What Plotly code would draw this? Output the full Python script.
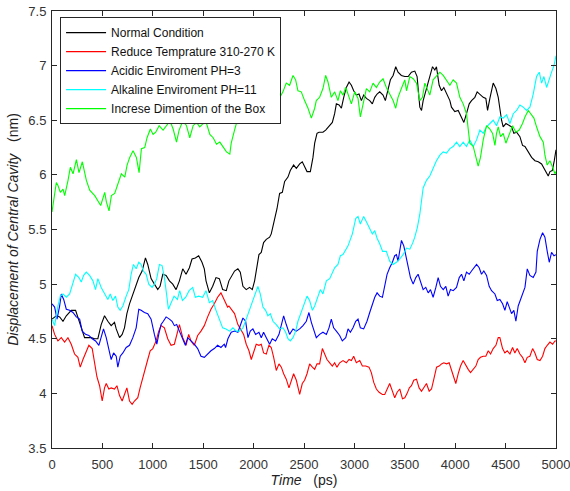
import plotly.graph_objects as go

# (time ps, displacement nm)
normal = [(0,4.68),(43,4.71),(76,4.70),(109,4.66),(142,4.71),(191,4.76),(234,4.76),(257,4.70),(290,4.60),(323,4.51),(356,4.51),(389,4.51),(422,4.50),(455,4.50),(488,4.63),(521,4.71),(554,4.66),(587,4.62),(620,4.65),(637,4.59),(670,4.51),(696,4.54),(719,4.60),(743,4.73),(769,4.82),(802,4.91),(835,5.00),(861,5.06),(894,5.12),(927,5.24),(950,5.18),(983,5.05),(1016,5.00),(1049,4.95),(1072,4.98),(1099,5.09),(1132,5.08),(1165,5.03),(1198,5.00),(1231,4.95),(1264,5.03),(1297,5.14),(1330,5.09),(1363,5.15),(1389,5.23),(1422,5.24),(1455,5.26),(1488,5.20),(1511,5.14),(1528,5.03),(1561,4.92),(1594,4.98),(1627,5.06),(1660,5.05),(1693,4.95),(1729,4.94),(1755,5.03),(1788,5.09),(1811,5.12),(1844,5.14),(1868,5.11),(1894,4.98),(1927,4.95),(1960,4.97),(1987,4.95),(2010,5.03),(2033,5.15),(2053,5.27),(2076,5.29),(2099,5.38),(2126,5.41),(2159,5.43),(2175,5.46),(2209,5.59),(2232,5.69),(2258,5.83),(2285,5.84),(2308,5.94),(2341,5.98),(2364,6.04),(2397,6.09),(2424,6.06),(2457,6.10),(2483,6.12),(2506,6.07),(2530,6.03),(2563,6.03),(2589,6.16),(2606,6.29),(2629,6.38),(2649,6.39),(2688,6.39),(2715,6.41),(2748,6.45),(2781,6.48),(2804,6.56),(2821,6.65),(2848,6.64),(2871,6.61),(2894,6.71),(2920,6.80),(2947,6.85),(2970,6.82),(2993,6.77),(3019,6.73),(3046,6.74),(3069,6.68),(3092,6.73),(3119,6.70),(3152,6.68),(3178,6.65),(3202,6.71),(3225,6.74),(3251,6.76),(3284,6.73),(3307,6.68),(3334,6.77),(3357,6.87),(3384,6.91),(3410,6.99),(3433,6.94),(3466,6.91),(3500,6.90),(3533,6.90),(3566,6.94),(3599,6.95),(3622,6.90),(3649,6.62),(3666,6.59),(3682,6.68),(3715,6.79),(3748,6.91),(3775,6.99),(3798,6.96),(3814,6.99),(3841,6.82),(3864,6.77),(3887,6.80),(3914,6.74),(3947,6.68),(3963,6.62),(3996,6.58),(4030,6.59),(4063,6.53),(4086,6.48),(4112,6.56),(4139,6.65),(4162,6.68),(4195,6.71),(4218,6.76),(4245,6.74),(4278,6.71),(4304,6.70),(4321,6.59),(4344,6.70),(4361,6.76),(4377,6.84),(4404,6.79),(4427,6.71),(4460,6.50),(4476,6.44),(4503,6.47),(4536,6.45),(4559,6.44),(4582,6.38),(4609,6.39),(4642,6.35),(4668,6.27),(4692,6.26),(4725,6.21),(4758,6.16),(4791,6.13),(4824,6.12),(4857,6.10),(4890,6.05),(4923,5.99),(4940,6.03),(4963,6.04),(4983,6.13),(5000,6.23)]

reduce_temp = [(0,4.62),(26,4.54),(59,4.48),(92,4.51),(125,4.47),(158,4.51),(191,4.45),(224,4.36),(257,4.33),(280,4.24),(307,4.31),(333,4.37),(366,4.44),(399,4.41),(422,4.30),(446,4.15),(472,4.07),(498,3.93),(521,4.05),(538,4.09),(564,4.04),(587,4.05),(620,4.04),(644,4.07),(670,3.98),(696,3.93),(719,3.99),(743,4.05),(769,3.93),(795,3.90),(818,3.93),(851,3.96),(874,4.05),(901,4.15),(927,4.24),(950,4.31),(974,4.39),(1000,4.41),(1033,4.48),(1059,4.57),(1082,4.62),(1115,4.60),(1148,4.50),(1181,4.44),(1214,4.45),(1237,4.54),(1264,4.63),(1297,4.51),(1330,4.44),(1356,4.54),(1379,4.48),(1412,4.44),(1445,4.53),(1478,4.57),(1511,4.62),(1544,4.70),(1577,4.77),(1610,4.82),(1643,4.88),(1676,4.92),(1693,4.89),(1719,4.83),(1742,4.79),(1755,4.80),(1778,4.77),(1811,4.73),(1844,4.63),(1877,4.57),(1901,4.54),(1927,4.45),(1954,4.39),(1977,4.31),(2000,4.37),(2026,4.45),(2053,4.44),(2076,4.45),(2099,4.37),(2126,4.36),(2152,4.44),(2175,4.42),(2199,4.33),(2225,4.21),(2252,4.27),(2275,4.24),(2298,4.18),(2324,4.13),(2351,4.05),(2374,4.12),(2397,4.18),(2424,4.12),(2457,3.99),(2483,4.09),(2506,4.12),(2530,4.18),(2556,4.27),(2583,4.24),(2606,4.22),(2629,4.27),(2655,4.27),(2682,4.41),(2705,4.36),(2728,4.31),(2755,4.28),(2781,4.25),(2804,4.28),(2827,4.24),(2854,4.28),(2887,4.30),(2920,4.28),(2947,4.31),(2970,4.30),(2993,4.34),(3019,4.28),(3053,4.30),(3079,4.25),(3112,4.25),(3145,4.24),(3168,4.19),(3192,4.10),(3218,4.04),(3245,4.01),(3278,3.99),(3301,3.99),(3324,4.04),(3350,4.09),(3377,4.02),(3400,3.96),(3424,4.01),(3450,4.04),(3477,3.95),(3500,3.96),(3523,4.00),(3545,4.05),(3566,4.07),(3589,4.12),(3616,4.13),(3642,4.05),(3666,4.02),(3689,4.05),(3715,4.09),(3742,4.02),(3765,4.04),(3788,4.13),(3815,4.24),(3841,4.25),(3864,4.27),(3887,4.28),(3914,4.27),(3940,4.28),(3963,4.21),(3986,4.15),(4006,4.09),(4030,4.18),(4053,4.25),(4079,4.30),(4106,4.25),(4129,4.22),(4152,4.19),(4179,4.22),(4205,4.25),(4228,4.31),(4251,4.33),(4278,4.34),(4304,4.34),(4328,4.39),(4351,4.36),(4377,4.41),(4404,4.44),(4427,4.51),(4443,4.51),(4470,4.41),(4493,4.37),(4516,4.39),(4543,4.36),(4569,4.42),(4592,4.37),(4615,4.41),(4642,4.36),(4668,4.33),(4692,4.28),(4715,4.33),(4741,4.34),(4768,4.41),(4791,4.37),(4814,4.31),(4841,4.30),(4867,4.34),(4890,4.41),(4913,4.44),(4940,4.47),(4966,4.45),(4990,4.48),(5000,4.48)]

acidic = [(0,4.82),(26,4.79),(50,4.68),(76,4.80),(92,4.91),(116,4.86),(142,4.77),(175,4.76),(208,4.74),(241,4.70),(274,4.68),(300,4.57),(333,4.54),(366,4.53),(399,4.50),(432,4.48),(465,4.44),(488,4.51),(511,4.59),(538,4.51),(564,4.39),(587,4.31),(611,4.37),(637,4.34),(653,4.24),(677,4.34),(703,4.37),(736,4.42),(769,4.44),(802,4.51),(835,4.60),(861,4.77),(884,4.76),(917,4.74),(950,4.73),(983,4.68),(1016,4.54),(1040,4.45),(1059,4.54),(1082,4.63),(1105,4.66),(1132,4.70),(1165,4.68),(1191,4.66),(1214,4.62),(1237,4.63),(1264,4.57),(1297,4.50),(1323,4.44),(1346,4.51),(1379,4.48),(1412,4.45),(1445,4.41),(1478,4.34),(1511,4.33),(1544,4.36),(1577,4.39),(1610,4.41),(1643,4.44),(1676,4.42),(1709,4.45),(1722,4.42),(1745,4.50),(1778,4.56),(1811,4.57),(1844,4.56),(1868,4.63),(1894,4.69),(1921,4.66),(1944,4.51),(1967,4.57),(1993,4.59),(2020,4.54),(2053,4.56),(2076,4.51),(2099,4.56),(2126,4.51),(2159,4.45),(2185,4.50),(2218,4.48),(2252,4.54),(2275,4.62),(2298,4.71),(2324,4.63),(2357,4.54),(2391,4.59),(2424,4.57),(2457,4.59),(2490,4.62),(2523,4.66),(2549,4.74),(2573,4.65),(2596,4.59),(2622,4.51),(2655,4.54),(2688,4.56),(2722,4.54),(2748,4.60),(2771,4.68),(2794,4.60),(2821,4.57),(2854,4.53),(2880,4.48),(2914,4.51),(2937,4.59),(2960,4.56),(2986,4.60),(3013,4.66),(3036,4.68),(3059,4.60),(3092,4.59),(3125,4.66),(3152,4.74),(3178,4.82),(3202,4.88),(3225,4.92),(3251,4.89),(3278,4.88),(3301,4.98),(3324,5.09),(3350,5.15),(3377,5.20),(3400,5.26),(3417,5.27),(3433,5.21),(3450,5.30),(3467,5.40),(3490,5.35),(3510,5.27),(3533,5.15),(3556,5.06),(3583,5.00),(3609,5.06),(3632,5.09),(3655,5.03),(3682,4.95),(3708,4.97),(3732,4.92),(3755,4.95),(3781,4.88),(3808,4.97),(3831,5.06),(3854,4.98),(3881,4.95),(3907,4.98),(3930,4.89),(3953,4.95),(3980,4.94),(4013,4.97),(4040,5.06),(4063,5.09),(4086,5.03),(4112,5.11),(4139,5.09),(4162,5.12),(4185,5.15),(4212,5.18),(4238,5.15),(4261,5.09),(4284,5.12),(4311,5.08),(4337,4.98),(4361,4.94),(4394,4.91),(4417,4.85),(4443,4.86),(4470,4.82),(4493,4.76),(4516,4.84),(4536,4.79),(4559,4.73),(4582,4.76),(4602,4.66),(4625,4.80),(4658,4.89),(4692,4.97),(4715,5.14),(4741,5.08),(4774,5.06),(4801,5.11),(4814,5.30),(4841,5.41),(4867,5.47),(4890,5.43),(4913,5.30),(4933,5.20),(4956,5.29),(4980,5.26),(5000,5.27)]

alkaline = [(0,4.68),(26,4.62),(59,4.80),(83,4.89),(109,4.91),(142,4.88),(175,4.91),(208,5.02),(234,5.09),(267,5.06),(290,5.02),(314,5.08),(340,5.11),(373,5.08),(406,5.03),(432,4.95),(455,5.05),(488,4.97),(521,4.91),(554,4.86),(578,4.91),(604,4.85),(630,4.89),(653,4.79),(676,4.76),(703,4.80),(736,4.89),(762,4.95),(785,5.09),(808,5.18),(835,5.14),(861,5.20),(884,5.18),(907,5.12),(934,5.09),(960,5.00),(993,4.97),(1016,5.00),(1039,5.05),(1066,5.18),(1092,5.17),(1115,5.06),(1135,4.92),(1155,4.77),(1178,4.82),(1211,4.89),(1244,4.86),(1267,4.94),(1294,4.85),(1327,4.88),(1360,4.94),(1396,4.97),(1422,4.88),(1455,4.89),(1495,4.88),(1528,4.94),(1561,4.83),(1594,4.85),(1627,4.76),(1660,4.68),(1693,4.60),(1726,4.59),(1762,4.57),(1795,4.60),(1828,4.57),(1861,4.57),(1894,4.60),(1927,4.68),(1960,4.77),(1993,4.85),(2020,4.92),(2043,4.98),(2066,4.91),(2093,4.79),(2119,4.76),(2142,4.71),(2166,4.73),(2192,4.66),(2225,4.63),(2258,4.59),(2291,4.60),(2318,4.56),(2341,4.50),(2364,4.48),(2391,4.51),(2417,4.57),(2440,4.66),(2473,4.74),(2506,4.82),(2530,4.89),(2556,4.85),(2583,4.76),(2606,4.80),(2639,4.89),(2662,4.95),(2688,4.91),(2722,5.03),(2755,5.05),(2781,5.11),(2804,5.15),(2837,5.18),(2861,5.26),(2887,5.27),(2914,5.32),(2937,5.35),(2960,5.41),(2980,5.46),(3013,5.60),(3036,5.62),(3059,5.55),(3092,5.62),(3119,5.57),(3152,5.51),(3178,5.46),(3202,5.49),(3225,5.42),(3251,5.37),(3280,5.30),(3317,5.30),(3350,5.21),(3384,5.18),(3417,5.20),(3450,5.23),(3483,5.27),(3517,5.33),(3550,5.32),(3580,5.38),(3599,5.43),(3625,5.52),(3649,5.64),(3682,5.88),(3715,5.95),(3748,5.99),(3781,6.06),(3814,6.13),(3848,6.18),(3881,6.21),(3914,6.20),(3947,6.24),(3980,6.26),(4013,6.30),(4046,6.26),(4079,6.30),(4112,6.26),(4145,6.32),(4179,6.26),(4212,6.32),(4245,6.41),(4278,6.38),(4311,6.44),(4344,6.47),(4377,6.50),(4410,6.45),(4443,6.53),(4476,6.52),(4510,6.55),(4543,6.47),(4576,6.56),(4609,6.59),(4642,6.64),(4675,6.62),(4708,6.59),(4741,6.62),(4774,6.74),(4807,6.90),(4834,6.94),(4857,6.84),(4880,6.90),(4907,6.80),(4933,6.88),(4956,6.94),(4980,7.00),(5000,7.09)]

box = [(0,5.66),(26,5.83),(43,5.93),(60,5.90),(83,5.84),(109,5.87),(126,5.81),(159,5.95),(182,6.07),(209,6.01),(242,6.14),(268,6.02),(301,6.12),(341,5.95),(374,5.86),(424,5.81),(483,5.72),(523,5.84),(540,5.75),(566,5.67),(589,5.81),(622,5.83),(665,5.95),(688,6.01),(722,5.98),(745,6.09),(771,6.16),(804,6.22),(837,6.16),(864,6.02),(887,6.24),(920,6.25),(943,6.34),(976,6.42),(1003,6.37),(1029,6.39),(1063,6.45),(1102,6.41),(1152,6.47),(1168,6.50),(1202,6.42),(1235,6.30),(1261,6.41),(1301,6.50),(1334,6.45),(1367,6.34),(1400,6.45),(1433,6.48),(1466,6.44),(1499,6.47),(1533,6.47),(1566,6.37),(1599,6.34),(1632,6.28),(1665,6.30),(1698,6.26),(1731,6.21),(1764,6.19),(1778,6.29),(1811,6.41),(1844,6.52),(1868,6.50),(1894,6.56),(1927,6.68),(1954,6.84),(1977,6.77),(2010,6.85),(2033,6.76),(2060,6.65),(2093,6.56),(2126,6.48),(2159,6.58),(2192,6.61),(2225,6.65),(2258,6.70),(2291,6.76),(2324,6.84),(2357,6.82),(2391,6.91),(2417,6.87),(2440,6.77),(2473,6.76),(2506,6.68),(2540,6.61),(2573,6.52),(2606,6.61),(2622,6.68),(2655,6.71),(2688,6.79),(2715,6.91),(2738,6.85),(2771,6.71),(2804,6.76),(2837,6.68),(2861,6.77),(2887,6.73),(2914,6.80),(2937,6.74),(2970,6.65),(3003,6.76),(3036,6.70),(3059,6.53),(3092,6.68),(3119,6.79),(3152,6.76),(3185,6.84),(3218,6.80),(3251,6.85),(3284,6.88),(3317,6.80),(3350,6.74),(3384,6.68),(3410,6.61),(3433,6.71),(3466,6.79),(3500,6.87),(3517,6.77),(3550,6.90),(3583,6.88),(3616,6.84),(3649,6.68),(3675,6.71),(3699,6.84),(3732,6.76),(3748,6.73),(3781,6.87),(3814,6.91),(3848,6.94),(3881,6.91),(3914,6.87),(3947,6.82),(3980,6.87),(4013,6.84),(4046,6.71),(4079,6.65),(4112,6.56),(4129,6.41),(4145,6.29),(4179,6.26),(4205,6.16),(4228,6.08),(4251,6.16),(4278,6.32),(4311,6.45),(4344,6.42),(4371,6.38),(4394,6.27),(4410,6.38),(4427,6.44),(4450,6.35),(4476,6.38),(4503,6.29),(4536,6.38),(4569,6.45),(4602,6.39),(4635,6.41),(4668,6.47),(4692,6.53),(4725,6.59),(4758,6.55),(4781,6.52),(4807,6.44),(4841,6.35),(4874,6.30),(4890,6.18),(4913,6.09),(4940,6.13),(4966,6.07),(4990,6.01),(5000,6.03)]

names = ["Normal Condition", "Reduce Temprature 310-270 K", "Acidic Enviroment PH=3",
         "Alkaline Enviroment PH=11", "Increse Dimention of the Box"]
colors = ["#000000", "#ff0000", "#0000ff", "#00ffff", "#00ff00"]
series = [normal, reduce_temp, acidic, alkaline, box]

x_ticks = list(range(0, 5001, 500))
y_ticks = [3.5, 4, 4.5, 5, 5.5, 6, 6.5, 7, 7.5]
y_tick_text = ["3.5", "4", "4.5", "5", "5.5", "6", "6.5", "7", "7.5"]

fig = go.Figure()
for name, col, data in zip(names, colors, series):
    fig.add_trace(go.Scatter(
        x=[p[0] for p in data], y=[p[1] for p in data],
        mode="lines", name=name, line=dict(color=col, width=1.1)))

axis_col = "#262626"
fig.update_layout(
    width=570, height=491,
    margin=dict(l=52, r=14, t=11, b=43),
    paper_bgcolor="white", plot_bgcolor="white",
    font=dict(family="Liberation Sans, Arial, sans-serif", color="#333333"),
    showlegend=True, hovermode=False,
    legend=dict(x=0.016, y=0.986, xanchor="left", yanchor="top",
                bgcolor="white", bordercolor=axis_col, borderwidth=1,
                font=dict(size=12, color="#111111"),
                itemwidth=40, tracegroupgap=0),
)
fig.update_xaxes(
    range=[0, 5000], tickvals=x_ticks, ticks="inside", ticklen=5,
    tickcolor=axis_col, showline=True, linecolor=axis_col, linewidth=1,
    mirror="ticks", showgrid=False, zeroline=False, automargin=False,
    ticklabeloverflow="allow", ticklabelstandoff=4,
    tickfont=dict(size=13, color="#333333"),
    title=dict(text="<i>Time</i>&nbsp;&nbsp;&nbsp;(ps)", font=dict(size=14, color="#222222"), standoff=4),
)
fig.update_yaxes(
    range=[3.5, 7.5], tickvals=y_ticks, ticktext=y_tick_text, ticks="inside", ticklen=5,
    tickcolor=axis_col, showline=True, linecolor=axis_col, linewidth=1,
    mirror="ticks", showgrid=False, zeroline=False, automargin=False,
    ticklabeloverflow="allow", ticklabelstandoff=2,
    tickfont=dict(size=13, color="#333333"),
    title=dict(text="<i>Displacement of Central Cavity</i>&nbsp;&nbsp;&nbsp;(nm)", font=dict(size=14, color="#222222"), standoff=6),
)

fig.write_html("out.html", config={"displayModeBar": False},
               post_script="document.body.style.margin='0';")
